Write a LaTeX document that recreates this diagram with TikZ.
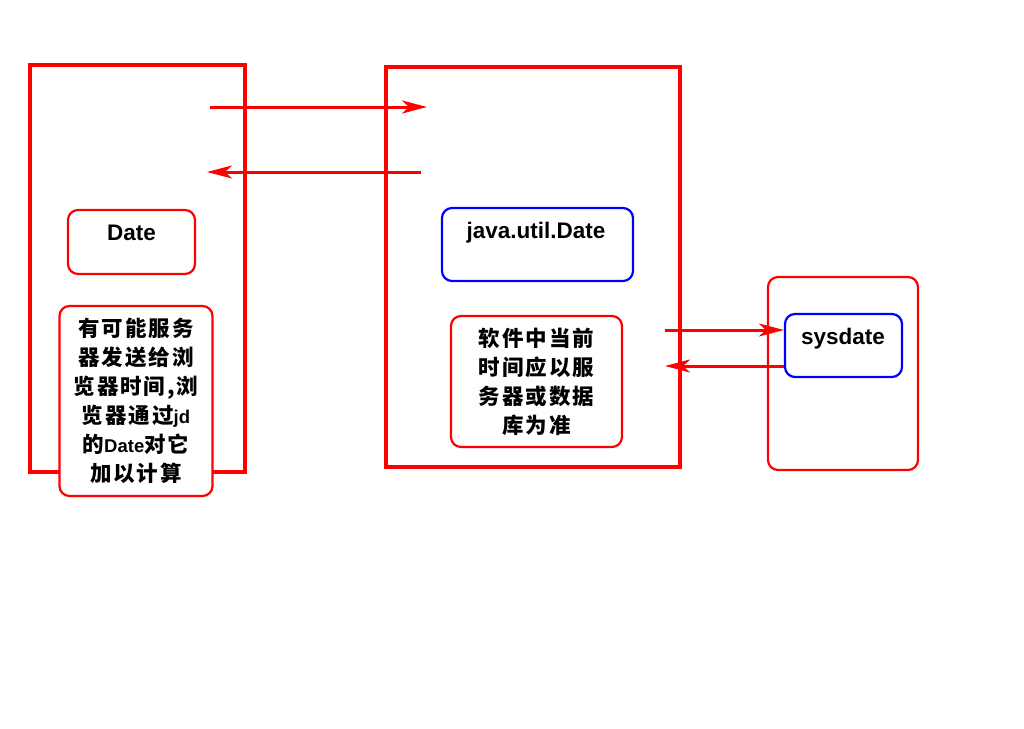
\documentclass[tikz,border=0pt]{standalone}
\usepackage{fontspec}
\setmainfont{Liberation Sans}
\newfontfamily\cjk{Noto Sans CJK SC}[LetterSpace = 9]
\newcommand\latinpart[1]{{\fontsize{18.5}{29}\selectfont\rmfamily\bfseries #1}}
\usetikzlibrary{positioning}
\usetikzlibrary{arrows.meta}

\begin{document}
\begin{tikzpicture}[x = 1pt, y = -1pt,
	bigbox/.style = {draw = red, line width = 3.5pt, inner sep = 0pt},
	redbox/.style = {draw = red, line width = 2.2pt, rounded corners = 10pt, inner sep = 0pt},
	bluebox/.style = {draw = blue, line width = 2.2pt, rounded corners = 10pt, inner sep = 0pt},
	title/.style = {font = \fontsize{22.5}{26}\selectfont\bfseries, text height = 16pt, text depth = 0pt, inner sep = 0pt},
	note/.style = {align = center, font = \fontsize{21.5}{29}\selectfont\bfseries\cjk},
	link/.style = {red, line width = 3pt, -{Stealth[length = 25pt, width = 13pt, inset = 7pt]}}]
							\useasboundingbox (0, 0) rectangle (1024, 728);
							\node [bigbox, minimum width = 215pt, minimum height = 407pt] (browser) at (137.5, 268.5) {};
							\node [bigbox, minimum width = 294pt, minimum height = 400pt] (server) at (533, 267) {};
							\node [redbox, minimum width = 150pt, minimum height = 193pt] (database) at (843, 373.5) {};
							\node [redbox, fill = white, minimum width = 127pt, minimum height = 64pt] (jsdate) at (131.5, 242) {};
							\node [title] (jsdatetext) at (131.5, 232) {Date};
							\node [redbox, fill = white, note, minimum width = 153pt, minimum height = 190pt] (jsnote) at (136, 401) {有可能服务\\器发送给浏\\览器时间,浏\\览器通过\latinpart{jd}\\的\latinpart{Date}对它\\加以计算};
							\node [bluebox, minimum width = 191pt, minimum height = 73pt] (javadate) at (537.5, 244.5) {};
							\node [title] (javadatetext) at (536, 230) {java.util.Date};
							\node [redbox, note, minimum width = 171pt, minimum height = 131pt] (servernote) at (536.5, 381.5) {软件中当前\\时间应以服\\务器或数据\\库为准};
							\node [bluebox, minimum width = 117pt, minimum height = 63pt] (sysdate) at (843.5, 345.5) {};
							\node [title] (sysdatetext) at (843, 336) {sysdate};
							\coordinate (request) at (210, 107);
							\coordinate (requestend) at (427, 107);
							\coordinate (response) at (421, 172);
							\coordinate (responseend) at (207, 172);
							\coordinate (query) at (665, 330);
							\coordinate (result) at (665, 366);
							\draw [link] (request) -- (requestend);
							\draw [link] (response) -- (responseend);
							\draw [link] (query) -- (query -| sysdate.west);
							\draw [link] (result -| sysdate.west) -- (result);
						\end{tikzpicture}
\end{document}
